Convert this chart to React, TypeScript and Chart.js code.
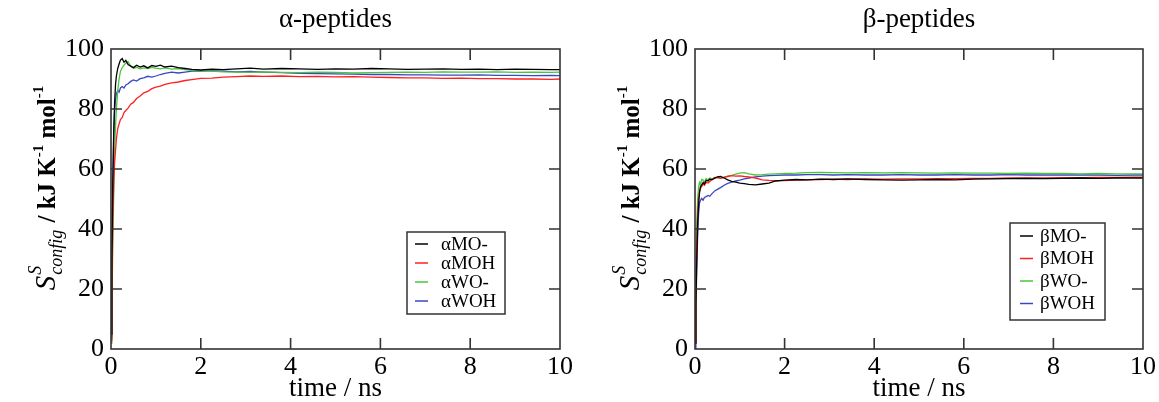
import React, { useEffect, useRef } from "react";
import { Chart, registerables } from "chart.js";

Chart.register(...registerables);

// ---------- DATA ----------
const timeNs = [0, 0.02, 0.04, 0.06, 0.08, 0.1, 0.12, 0.15, 0.18, 0.21, 0.25, 0.29, 0.33, 0.38, 0.44, 0.5, 0.57, 0.65, 0.73, 0.82, 0.91, 1.0, 1.1, 1.2, 1.35, 1.5, 1.65, 1.8, 2.0, 2.25, 2.5, 2.8, 3.1, 3.4, 3.8, 4.2, 4.6, 5.0, 5.4, 5.8, 6.2, 6.6, 7.0, 7.4, 7.8, 8.2, 8.6, 9.0, 9.4, 9.8, 10.0];

const alphaMO = [5, 30, 55, 72, 82, 88, 91, 93.5, 95, 96.3, 96.8, 95.6, 96.2, 94.8, 94.3, 93.8, 94.6, 94.0, 94.4, 93.7, 94.5, 94.2, 94.6, 94.0, 94.3, 93.8, 93.5, 93.2, 93.0, 93.3, 93.1, 93.4, 93.6, 93.3, 93.5, 93.4, 93.2, 93.4, 93.3, 93.5, 93.4, 93.2, 93.3, 93.4, 93.2, 93.3, 93.1, 93.3, 93.2, 93.1, 93.1];
const alphaMOH = [3, 22, 42, 55, 62, 66, 70, 73.5, 75, 76.5, 77.2, 78.8, 79.5, 80.3, 81.6, 82.2, 83.5, 84.3, 85.4, 85.9, 86.8, 87.3, 87.6, 88.2, 88.7, 89.0, 89.5, 89.8, 90.2, 90.3, 90.6, 90.8, 91.0, 90.9, 91.0, 90.8, 90.9, 90.7, 90.8, 90.6, 90.5, 90.4, 90.4, 90.2, 90.3, 90.1, 90.1, 90.0, 90.0, 89.9, 90.0];
const alphaWO = [2, 15, 35, 52, 66, 74, 80, 86, 90, 92.5, 93.8, 94.6, 95.3, 95.8, 94.2, 93.6, 93.9, 93.4, 93.7, 93.5, 93.9, 93.6, 93.4, 93.7, 93.3, 93.5, 93.1, 92.9, 92.7, 92.6, 92.4, 92.3, 92.2, 92.4, 92.2, 92.1, 92.3, 92.2, 92.0, 92.1, 92.2, 92.3, 92.2, 92.4, 92.3, 92.3, 92.4, 92.2, 92.3, 92.2, 92.3];
const alphaWOH = [4, 30, 55, 70, 79, 83, 85, 86.2, 85.6, 87.0, 87.5, 87.0, 88.0, 88.4, 89.2, 89.7, 89.3, 90.1, 90.4, 90.9, 90.6, 91.0, 91.5, 91.9, 92.3, 92.0, 92.3, 92.6, 92.6, 92.8, 92.6, 92.4, 92.5, 92.3, 92.1, 91.9, 91.8, 91.7, 91.6, 91.5, 91.5, 91.4, 91.4, 91.3, 91.3, 91.4, 91.2, 91.2, 91.1, 91.2, 91.1];

const betaMO = [2, 15, 30, 42, 48, 52, 54, 54.7, 55.5, 55.0, 56.2, 56.0, 56.6, 56.4, 56.9, 57.4, 57.5, 57.0, 56.4, 55.9, 55.6, 55.3, 55.1, 54.9, 54.7, 55.0, 55.3, 56.0, 56.3, 56.5, 56.4, 56.6, 56.5, 56.7, 56.5, 56.4, 56.3, 56.4, 56.5, 56.4, 56.6, 56.7, 56.8, 56.9, 56.8, 56.9, 57.0, 56.9, 57.0, 57.0, 57.0];
const betaMOH = [2, 18, 35, 45, 50, 52.4, 53.5, 54.2, 55.0, 54.6, 55.5, 55.3, 55.8, 56.6, 57.2, 57.1, 56.9, 57.2, 57.5, 57.8, 57.6, 57.7, 57.5, 57.4, 57.0, 56.4, 56.2, 56.1, 56.1, 56.3, 56.4, 56.5, 56.6, 56.5, 56.7, 56.6, 56.7, 56.7, 56.8, 56.8, 56.9, 56.9, 57.0, 57.0, 57.0, 57.1, 57.1, 57.2, 57.2, 57.3, 57.3];
const betaWO = [3, 25, 42, 50, 54, 55.5, 54.8, 56.5, 56.3, 55.6, 56.8, 56.4, 57.0, 56.7, 57.0, 57.2, 56.9, 57.3, 57.6, 57.9, 58.3, 58.6, 58.8, 58.4, 58.0, 58.1, 58.3, 58.4, 58.5, 58.6, 58.8, 58.9, 58.8, 58.7, 58.8, 58.7, 58.8, 58.7, 58.6, 58.7, 58.6, 58.6, 58.5, 58.6, 58.5, 58.5, 58.4, 58.5, 58.4, 58.4, 58.4];
const betaWOH = [0, 12, 28, 38, 45, 48.6, 49.5, 50.2, 49.6, 50.5, 50.8, 51.2, 50.9, 51.8, 52.7, 53.2, 53.8, 54.6, 55.2, 55.6, 56.0, 56.3, 56.7, 57.0, 57.4, 57.6, 57.8, 57.9, 58.0, 58.0, 58.1, 58.1, 58.0, 58.1, 58.0, 58.0, 58.1, 58.0, 58.0, 58.1, 58.0, 58.0, 58.1, 58.0, 58.0, 58.0, 58.0, 58.0, 57.9, 58.0, 58.0];

const seriesNames = ["MO-", "MOH", "WO-", "WOH"];
const seriesColors = ["#000000", "#ff2020", "#4cc43c", "#3a46c4"];
const xTickValues = [0, 2, 4, 6, 8, 10];
const yTickValues = [0, 20, 40, 60, 80, 100];
const xAxisTitle = "time / ns";

const FONT = '"Liberation Serif", "Times New Roman", serif';
const FRAME = "#333333";

type PanelCfg = {
  title: string;
  prefix: string;
  values: number[][];
  canvasLeft: number;
  canvasWidth: number;
  plotLeft: number;
  plotRight: number;
  legend: { x: number; y: number; w: number; h: number; row0: number; rowGap: number; lineX: number; textX: number };
};

const panels: PanelCfg[] = [
  {
    title: "α-peptides",
    prefix: "α",
    values: [alphaMO, alphaMOH, alphaWO, alphaWOH],
    canvasLeft: 0,
    canvasWidth: 580,
    plotLeft: 111,
    plotRight: 560,
    legend: { x: 407, y: 232, w: 98, h: 82, row0: 244, rowGap: 19, lineX: 415, textX: 441 },
  },
  {
    title: "β-peptides",
    prefix: "β",
    values: [betaMO, betaMOH, betaWO, betaWOH],
    canvasLeft: 580,
    canvasWidth: 579,
    plotLeft: 115,
    plotRight: 563,
    legend: { x: 430, y: 223, w: 95, h: 97, row0: 236, rowGap: 22.5, lineX: 440, textX: 460 },
  },
];

const PLOT_TOP = 49;
const PLOT_BOTTOM = 349;

function drawYLabel(ctx: CanvasRenderingContext2D, baseX: number, centerY: number) {
  ctx.save();
  ctx.translate(baseX, centerY);
  ctx.rotate(-Math.PI / 2);
  ctx.fillStyle = "#000";
  ctx.textBaseline = "alphabetic";
  ctx.textAlign = "left";
  const big = `italic 29px ${FONT}`;
  const small = `italic 18px ${FONT}`;
  const main = `bold 25px ${FONT}`;
  const sup = `bold 15px ${FONT}`;
  const m = (f: string, t: string) => {
    ctx.font = f;
    return ctx.measureText(t).width;
  };
  const wS = m(big, "S");
  const wStack = Math.max(m(small, "S"), m(small, "config"));
  const w1 = m(main, " / kJ K");
  const wSup = m(sup, "-1");
  const w2 = m(main, " mol");
  const total = wS + wStack + 2 + w1 + wSup + w2 + wSup;
  let x = -total / 2;
  ctx.font = big;
  ctx.fillText("S", x, 0);
  x += wS + 1;
  ctx.font = small;
  ctx.fillText("S", x, -14);
  ctx.fillText("config", x, 7);
  x += wStack + 1;
  ctx.font = main;
  ctx.fillText(" / kJ K", x, 0);
  x += w1;
  ctx.font = sup;
  ctx.fillText("-1", x, -12);
  x += wSup;
  ctx.font = main;
  ctx.fillText(" mol", x, 0);
  x += w2;
  ctx.font = sup;
  ctx.fillText("-1", x, -12);
  ctx.restore();
}

function Panel({ cfg }: { cfg: PanelCfg }) {
  const ref = useRef<HTMLCanvasElement | null>(null);
  useEffect(() => {
    if (!ref.current) return;
    const datasets = cfg.values.map((vals, i) => ({
      label: cfg.prefix + seriesNames[i],
      data: timeNs.map((t, j) => ({ x: t, y: vals[j] })),
      borderColor: seriesColors[i],
      backgroundColor: seriesColors[i],
      borderWidth: 1.3,
      pointRadius: 0,
      tension: 0,
      fill: false,
    }));

    const framePlugin = {
      id: "frameAndText",
      afterDraw(chart: any) {
        const ctx: CanvasRenderingContext2D = chart.ctx;
        const a = chart.chartArea;
        const xs = chart.scales.x;
        const ys = chart.scales.y;
        ctx.save();
        ctx.strokeStyle = FRAME;
        ctx.lineWidth = 1.6;
        ctx.strokeRect(a.left, a.top, a.right - a.left, a.bottom - a.top);
        const tl = 11;
        ctx.beginPath();
        xTickValues.forEach((v) => {
          if (v === xTickValues[0] || v === xTickValues[xTickValues.length - 1]) return;
          const px = xs.getPixelForValue(v);
          ctx.moveTo(px, a.bottom);
          ctx.lineTo(px, a.bottom - tl);
          ctx.moveTo(px, a.top);
          ctx.lineTo(px, a.top + tl);
        });
        yTickValues.forEach((v) => {
          if (v === yTickValues[0] || v === yTickValues[yTickValues.length - 1]) return;
          const py = ys.getPixelForValue(v);
          ctx.moveTo(a.left, py);
          ctx.lineTo(a.left + tl, py);
          ctx.moveTo(a.right, py);
          ctx.lineTo(a.right - tl, py);
        });
        ctx.stroke();

        // title
        ctx.fillStyle = "#000";
        ctx.font = `27px ${FONT}`;
        ctx.textAlign = "center";
        ctx.textBaseline = "alphabetic";
        ctx.fillText(cfg.title, (a.left + a.right) / 2, 27);
        // x title
        ctx.font = `27px ${FONT}`;
        ctx.fillText(xAxisTitle, (a.left + a.right) / 2, 396);
        // y title
        drawYLabel(ctx, a.left - 56, 188);

        // legend
        const L = cfg.legend;
        ctx.strokeStyle = FRAME;
        ctx.lineWidth = 1.5;
        ctx.strokeRect(L.x, L.y, L.w, L.h);
        ctx.font = `19px ${FONT}`;
        ctx.textAlign = "left";
        ctx.textBaseline = "middle";
        chart.data.datasets.forEach((ds: any, i: number) => {
          const yy = L.row0 + i * L.rowGap;
          ctx.strokeStyle = ds.borderColor;
          ctx.lineWidth = 1.5;
          ctx.beginPath();
          ctx.moveTo(L.lineX, yy);
          ctx.lineTo(L.lineX + 13, yy);
          ctx.stroke();
          ctx.fillStyle = "#000";
          ctx.fillText(ds.label, L.textX, yy + 1);
        });
        ctx.restore();
      },
    };

    const chart = new Chart(ref.current, {
      type: "line",
      data: { datasets },
      options: {
        animation: false,
        responsive: false,
        maintainAspectRatio: false,
        layout: { padding: { top: PLOT_TOP, right: cfg.canvasWidth - cfg.plotRight, left: 0, bottom: 0 } },
        plugins: { legend: { display: false }, title: { display: false }, tooltip: { enabled: false } },
        scales: {
          x: {
            type: "linear",
            min: 0,
            max: 10,
            afterFit: (s: any) => {
              s.height = 402 - PLOT_BOTTOM;
            },
            afterBuildTicks: (s: any) => {
              s.ticks = xTickValues.map((v) => ({ value: v }));
            },
            grid: { display: false, drawTicks: false },
            border: { display: false },
            ticks: { color: "#000", font: { family: FONT, size: 26 }, padding: 3, maxRotation: 0, autoSkip: false },
          },
          y: {
            type: "linear",
            min: 0,
            max: 100,
            afterFit: (s: any) => {
              s.width = cfg.plotLeft;
            },
            afterBuildTicks: (s: any) => {
              s.ticks = yTickValues.map((v) => ({ value: v }));
            },
            grid: { display: false, drawTicks: false },
            border: { display: false },
            ticks: { color: "#000", font: { family: FONT, size: 26 }, padding: 7, autoSkip: false },
          },
        },
      } as any,
      plugins: [framePlugin],
    });
    return () => chart.destroy();
  }, [cfg]);
  return (
    <canvas
      ref={ref}
      width={cfg.canvasWidth}
      height={402}
      style={{ position: "absolute", left: cfg.canvasLeft, top: 0, width: cfg.canvasWidth, height: 402 }}
    />
  );
}

export default function App() {
  return (
    <div style={{ position: "fixed", left: 0, top: 0, width: 1159, height: 402, background: "#fff", overflow: "hidden" }}>
      {panels.map((p) => (
        <Panel key={p.title} cfg={p} />
      ))}
    </div>
  );
}
